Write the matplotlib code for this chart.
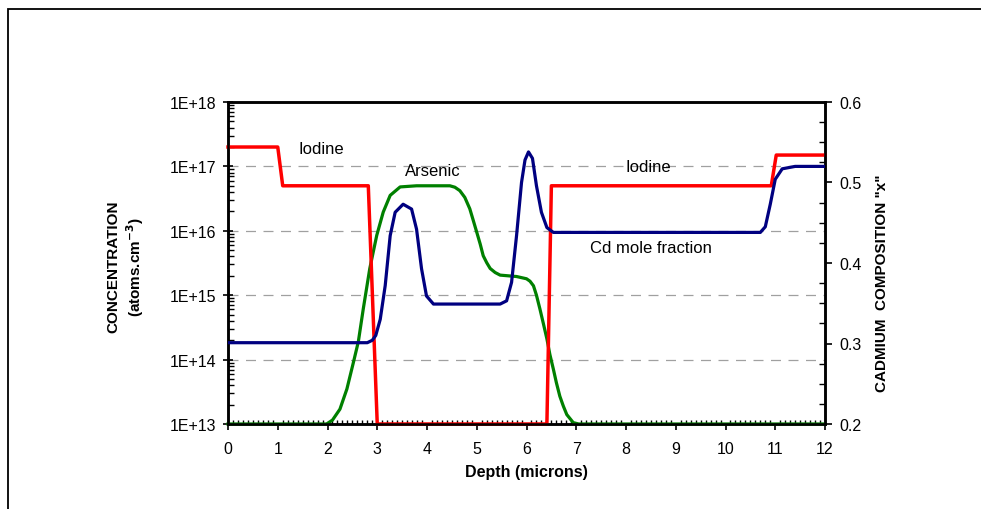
import matplotlib
matplotlib.use("Agg")
import matplotlib.pyplot as plt
from matplotlib.patches import Rectangle
from matplotlib.ticker import MultipleLocator, LogLocator, NullFormatter

plt.rcParams['font.family'] = ['Liberation Sans', 'DejaVu Sans']

# Iodine (atoms/cm3)
iodine_depth = [0, 1.0, 1.1, 2.82, 3.0, 6.41, 6.5, 10.92, 11.02, 12]
iodine_conc = [2e17, 2e17, 5e16, 5e16, 1e13, 1e13, 5e16, 5e16, 1.5e17, 1.5e17]

# Arsenic (atoms/cm3)
arsenic_depth = [0, 1.98, 2.1, 2.25, 2.39, 2.52, 2.62, 2.72, 2.85, 2.99, 3.12, 3.26, 3.46,
                 3.79, 4.46, 4.56, 4.66, 4.76, 4.86, 4.93, 5.0, 5.07, 5.13, 5.2, 5.27, 5.37,
                 5.47, 5.8, 6.0, 6.07, 6.14, 6.2, 6.27, 6.34, 6.41, 6.47, 6.54, 6.6, 6.67,
                 6.74, 6.81, 6.94, 7.05, 12]
arsenic_conc = [1e13, 1e13, 1.15e13, 1.7e13, 3.5e13, 9e13, 1.9e14, 6.2e14, 2.6e15, 8.5e15,
                1.95e16, 3.55e16, 4.8e16, 5e16, 5e16, 4.75e16, 4.2e16, 3.3e16, 2.2e16,
                1.45e16, 9.5e15, 6.2e15, 4.1e15, 3.2e15, 2.6e15, 2.25e15, 2.05e15, 1.95e15,
                1.8e15, 1.65e15, 1.4e15, 1e15, 6.1e14, 3.6e14, 2.1e14, 1.2e14, 7.1e13,
                4.4e13, 2.7e13, 1.9e13, 1.4e13, 1.05e13, 1e13, 1e13]

# Cd mole fraction x
cd_depth = [0, 2.8, 2.9, 2.97, 3.06, 3.16, 3.26, 3.36, 3.52, 3.69, 3.79, 3.89, 3.99, 4.13,
            5.47, 5.6, 5.7, 5.8, 5.9, 5.97, 6.04, 6.12, 6.2, 6.3, 6.41, 6.54, 10.7, 10.8,
            10.9, 11.0, 11.14, 11.4, 12]
cd_x = [0.301, 0.301, 0.304, 0.310, 0.330, 0.372, 0.434, 0.463, 0.473, 0.467, 0.442, 0.393,
        0.359, 0.349, 0.349, 0.353, 0.376, 0.434, 0.500, 0.528, 0.538, 0.530, 0.496, 0.463,
        0.444, 0.438, 0.438, 0.445, 0.473, 0.504, 0.517, 0.520, 0.520]

fig = plt.figure(figsize=(9.81, 5.10), dpi=100)
fig.patches.append(Rectangle((8 / 981, -0.05), 1.1, 1 - 10 / 510 + 0.05, transform=fig.transFigure,
                             fill=False, edgecolor='black', linewidth=1.3))

ax = fig.add_axes([228 / 981, 85 / 510, 597 / 981, 322 / 510])
ax.set_yscale('log')
ax.set_ylim(1e13, 1e18)
ax.set_xlim(0, 12)

for y in [1e14, 1e15, 1e16, 1e17]:
    ax.axhline(y, color='#a0a0a0', lw=0.9, ls=(0, (8, 6)), zorder=0)

ax.plot(arsenic_depth, arsenic_conc, color='#008000', lw=2.3, zorder=3, clip_on=False)
ax.plot(iodine_depth, iodine_conc, color='#ff0000', lw=2.5, zorder=4, clip_on=False)

ax.yaxis.set_minor_locator(LogLocator(base=10, subs=range(2, 10), numticks=10))
ax.yaxis.set_minor_formatter(NullFormatter())
ax.set_yticks([1e13, 1e14, 1e15, 1e16, 1e17, 1e18])
ax.set_yticklabels(['1E+13', '1E+14', '1E+15', '1E+16', '1E+17', '1E+18'])
ax.xaxis.set_major_locator(MultipleLocator(1))
ax.xaxis.set_minor_locator(MultipleLocator(0.1))

ax.tick_params(axis='y', which='major', direction='inout', length=7, width=1.2, labelsize=11.5, pad=5)
ax.tick_params(axis='y', which='minor', direction='in', length=4, width=1)
ax.tick_params(axis='x', which='major', direction='out', length=4, width=1.2, labelsize=11.5, pad=8)
ax.tick_params(axis='x', which='minor', direction='in', length=3, width=1)
for s in ax.spines.values():
    s.set_linewidth(1.8)

ax.set_xlabel('Depth (microns)', fontsize=11.5, fontweight='bold', labelpad=6)
ax.set_ylabel('CONCENTRATION\n(atoms.cm$^{\\mathbf{-3}}$)', fontsize=11, fontweight='bold',
              linespacing=1.25)
ax.yaxis.set_label_coords(-0.137, 0.49)

ax2 = ax.twinx()
ax2.set_ylim(0.2, 0.6)
ax2.plot(cd_depth, cd_x, color='#000080', lw=2.3, zorder=5)
ax2.yaxis.set_minor_locator(MultipleLocator(0.025))
ax2.set_yticks([0.2, 0.3, 0.4, 0.5, 0.6])
ax2.set_yticklabels(['0.2', '0.3', '0.4', '0.5', '0.6'])
ax2.tick_params(axis='y', which='major', direction='out', length=5, width=1.2, labelsize=11.5, pad=5)
ax2.tick_params(axis='y', which='minor', direction='in', length=4, width=1)
for s in ax2.spines.values():
    s.set_linewidth(1.8)
ax2.set_ylabel('CADMIUM  COMPOSITION "x"', fontsize=11, fontweight='bold')
ax2.yaxis.set_label_coords(1.0838, 0.441)

ax.text(1.41, 1.9e17, 'Iodine', fontsize=12, ha='left', va='center')
ax.text(4.11, 8.5e16, 'Arsenic', fontsize=12, ha='center', va='center')
ax.text(7.98, 9.8e16, 'Iodine', fontsize=12, ha='left', va='center')
ax.text(7.28, 5.5e15, 'Cd mole fraction', fontsize=12, ha='left', va='center')

fig.savefig('out.png', dpi=100)
